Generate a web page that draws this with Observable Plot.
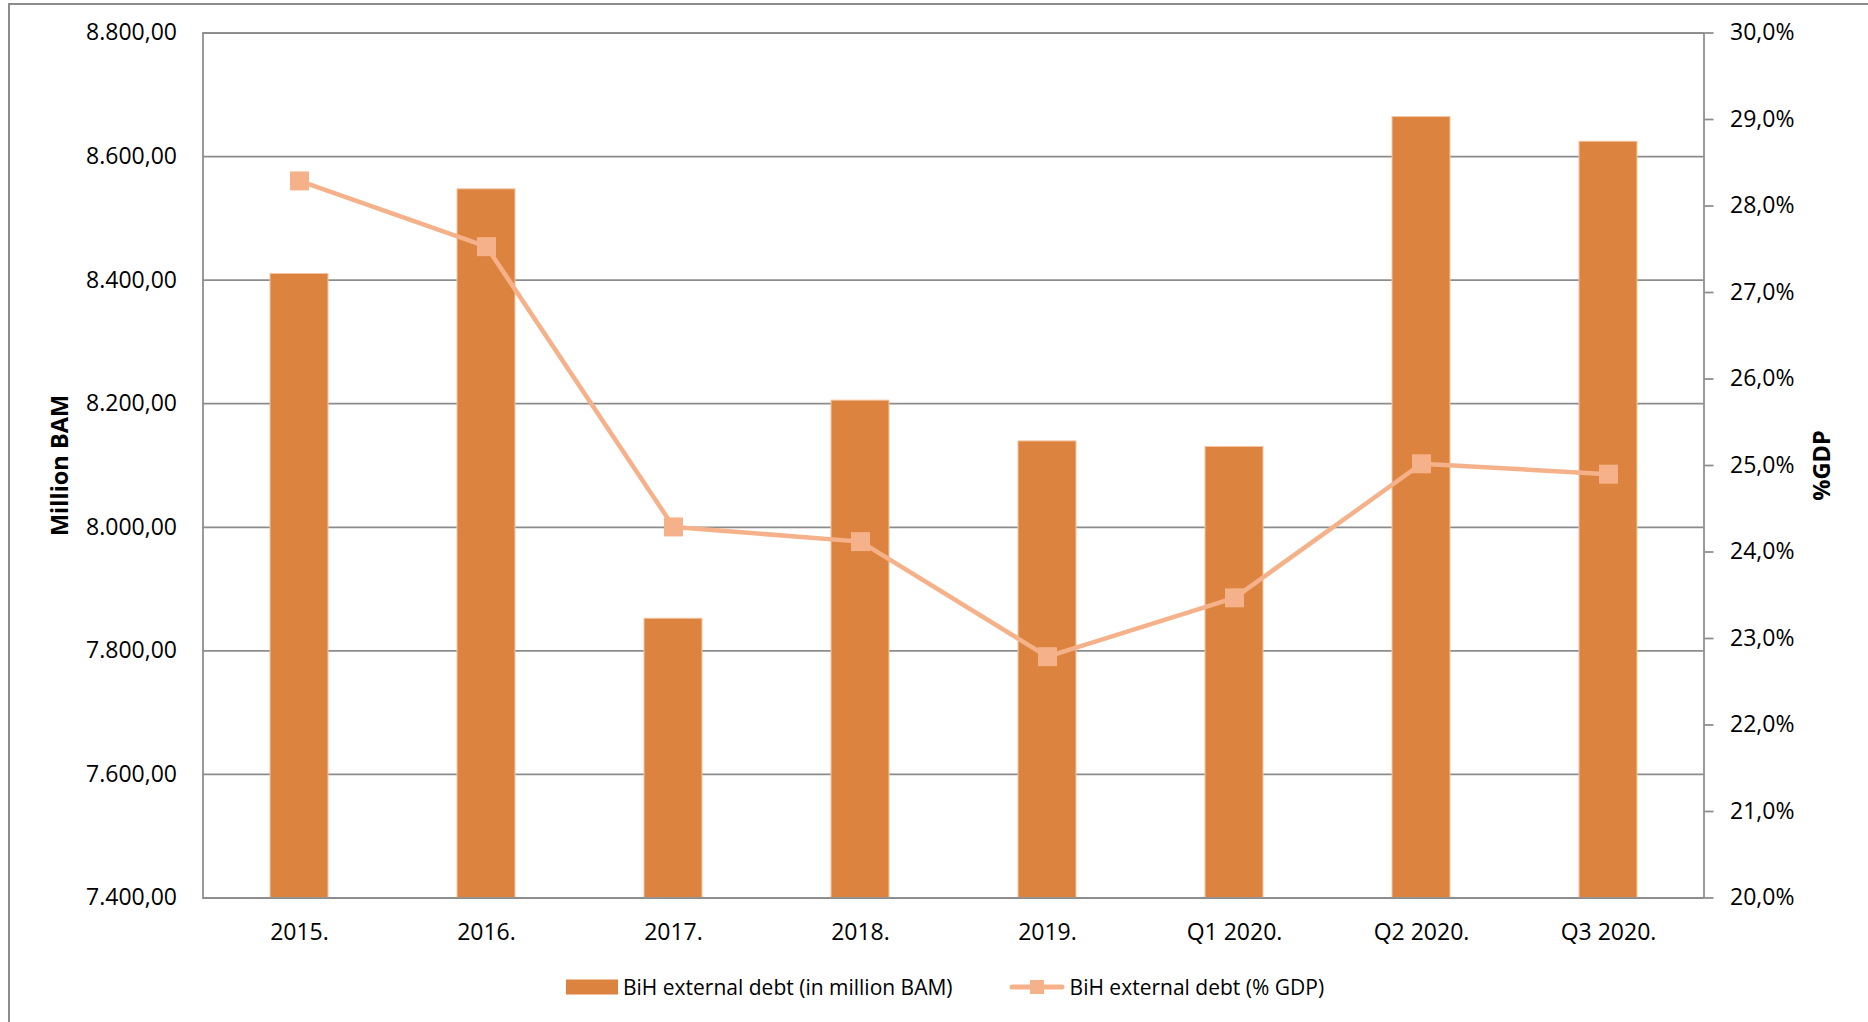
<!DOCTYPE html>
<html>
<head>
<meta charset="utf-8">
<script src="https://cdn.jsdelivr.net/npm/d3@7"></script>
<script src="https://cdn.jsdelivr.net/npm/@observablehq/plot@0.6"></script>
<style>
  html, body { margin: 0; padding: 0; background: #fff; overflow: hidden; }
  body { width: 1868px; height: 1022px; position: relative; font-family: "Open Sans", sans-serif; }
  #border { position: absolute; left: 8px; top: 3px; width: 1900px; height: 1100px;
            border-top: 2px solid #8c8c8c; border-left: 2px solid #8c8c8c; }
  #chart { position: absolute; left: 0; top: 0; }
  #legend { position: absolute; left: 566px; top: 960px; height: 54px; display: flex; align-items: center;
            font-family: "Open Sans", sans-serif; font-size: 21px; color: #000; }
  .item { display: flex; align-items: center; }
  .txt { margin-left: 5px; }
</style>
</head>
<body>
<div id="border"></div>
<div id="chart"></div>
<div id="legend"></div>
<script>
const categories = ["2015.", "2016.", "2017.", "2018.", "2019.", "Q1 2020.", "Q2 2020.", "Q3 2020."];
const debtMillionBAM = [8410, 8547, 7852, 8205, 8139, 8130, 8664, 8624];
const debtPctGDP = [28.29, 27.53, 24.29, 24.12, 22.79, 23.47, 25.02, 24.90];
const leftTicks = [7400, 7600, 7800, 8000, 8200, 8400, 8600, 8800];
const rightTicks = [20, 21, 22, 23, 24, 25, 26, 27, 28, 29, 30];
const seriesNames = ["BiH external debt (in million BAM)", "BiH external debt (% GDP)"];
const axisTitles = ["Million BAM", "%GDP"];

const barColor = "#DC843F";
const lineColor = "#F5B28A";
const gridColor = "#8c8c8c";

const data = categories.map((c, i) => ({cat: c, value: debtMillionBAM[i], pct: debtPctGDP[i]}));

const yMin = leftTicks[0], yMax = leftTicks[leftTicks.length - 1];
const pMin = rightTicks[0], pMax = rightTicks[rightTicks.length - 1];
const toLeft = p => yMin + (p - pMin) / (pMax - pMin) * (yMax - yMin);
const fromLeft = v => pMin + (v - yMin) / (yMax - yMin) * (pMax - pMin);

const loc = d3.formatLocale({decimal: ",", thousands: ".", grouping: [3], currency: ["", ""]});
const fmtNum = loc.format(",.2f");
const fmtPct1 = loc.format(".1f");
const fmtPct = v => fmtPct1(Math.round(fromLeft(v) * 10) / 10) + "%";

const chart = Plot.plot({
  width: 1868,
  height: 960,
  marginTop: 32.5,
  marginBottom: 62.5,
  marginLeft: 202.5,
  marginRight: 164.5,
  style: {fontFamily: "Open Sans", fontSize: "23px", color: "#000", background: "transparent"},
  x: {type: "band", domain: categories, paddingInner: 0.69, paddingOuter: 0.345, axis: null},
  y: {domain: [yMin, yMax], axis: null},
  marks: [
    Plot.gridY(leftTicks, {stroke: gridColor, strokeOpacity: 1, strokeWidth: 1.75}),
    Plot.barY(data, {x: "cat", y1: yMin, y2: "value", fill: barColor, stroke: "#f2c6a3", strokeWidth: 1}),
    Plot.frame({stroke: gridColor, strokeWidth: 1.75}),
    Plot.line(data, {x: "cat", y: d => toLeft(d.pct), stroke: lineColor, strokeWidth: 4.5}),
    Plot.dot(data, {x: "cat", y: d => toLeft(d.pct), symbol: "square", r: 10.7, fill: lineColor, stroke: null}),
    Plot.axisY(leftTicks, {anchor: "left", tickSize: 0, tickPadding: 26, tickFormat: fmtNum, label: null, fill: "#000"}),
    Plot.axisY(rightTicks.map(toLeft), {anchor: "right", tickSize: 9, tickPadding: 17, tickFormat: fmtPct, label: null, stroke: gridColor, strokeWidth: 1.75, fill: "#000"}),
    Plot.axisX({anchor: "bottom", tickSize: 0, tickPadding: 26, label: null, fill: "#000"}),
    Plot.text([axisTitles[0]], {text: d => d, frameAnchor: "left", dx: -142.5, rotate: -90, textAnchor: "middle", fontWeight: "bold", fontSize: 23.5, fill: "#000"}),
    Plot.text([axisTitles[1]], {text: d => d, frameAnchor: "right", dx: 118.5, rotate: -90, textAnchor: "middle", fontWeight: "bold", fontSize: 23.5, fill: "#000"})
  ]
});
document.getElementById("chart").appendChild(chart);

const legend = document.getElementById("legend");
legend.innerHTML = `
  <div class="item">
    <svg width="52" height="16"><rect x="0" y="0.5" width="52" height="15" fill="${barColor}"></rect></svg>
    <span class="txt">${seriesNames[0]}</span>
  </div>
  <div class="item" style="margin-left:56px">
    <svg width="56" height="20"><line x1="3" y1="10" x2="53" y2="10" stroke="${lineColor}" stroke-width="5" stroke-linecap="round"></line>
    <rect x="21" y="3" width="14" height="14" fill="${lineColor}"></rect></svg>
    <span class="txt">${seriesNames[1]}</span>
  </div>`;
</script>
</body>
</html>
